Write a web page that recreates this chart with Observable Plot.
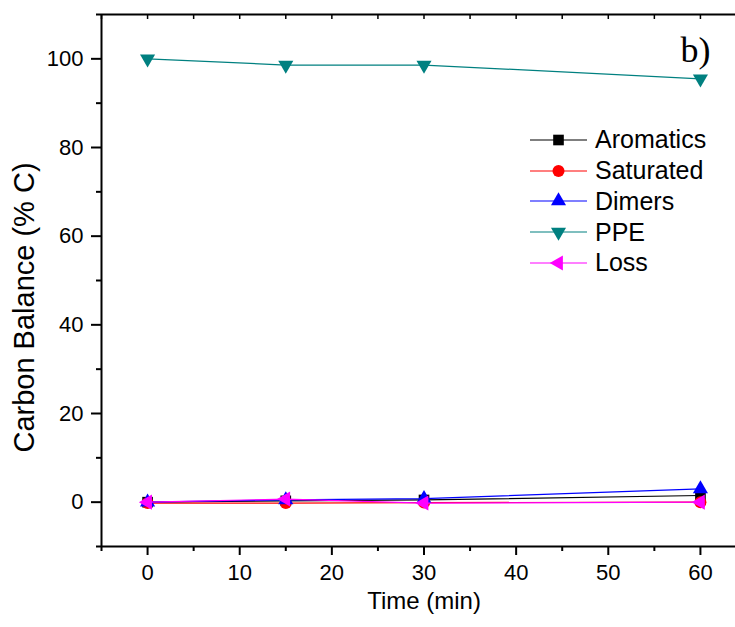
<!DOCTYPE html>
<html><head><meta charset="utf-8">
<script src="https://cdn.jsdelivr.net/npm/d3@7"></script>
<script src="https://cdn.jsdelivr.net/npm/@observablehq/plot@0.6"></script>
<style>
html,body{margin:0;padding:0;background:#fff;overflow:hidden;}
#wrap{position:relative;width:735px;height:627px;overflow:hidden;background:#fff;}
#legend{position:absolute;left:530px;top:124.6px;font-family:"Liberation Sans",Arial,sans-serif;font-size:25px;color:#000;}
.row{display:flex;align-items:center;height:30.7px;white-space:nowrap;}
.row svg{display:block;margin-right:8px;}
</style></head>
<body><div id="wrap"></div>
<script>
const times = [0, 15, 30, 60];
const aromatics = [0, 0.3, 0.5, 1.5];
const saturated = [-0.2, -0.2, -0.1, 0];
const dimers = [0, 0.5, 0.8, 3.0];
const ppe = [100, 98.6, 98.6, 95.5];
const loss = [0, 0.7, -0.2, 0];
const seriesNames = ["Aromatics", "Saturated", "Dimers", "PPE", "Loss"];
const seriesColors = ["#000000", "#ff0000", "#0000ff", "#008080", "#ff00ff"];
const xTicks = [0, 10, 20, 30, 40, 50, 60];
const xMinor = [-5, 5, 15, 25, 35, 45, 55, 65];
const yTicks = [0, 20, 40, 60, 80, 100];
const yMinor = [-10, 10, 30, 50, 70, 90, 110];
const panelTag = "b)";

const s3 = Math.sqrt(3);
const triDown = {draw(c, size) { const y = -Math.sqrt(size / (s3 * 3)); c.moveTo(0, -y * 2); c.lineTo(-s3 * y, y); c.lineTo(s3 * y, y); c.closePath(); }};
const triLeft = {draw(c, size) { const y = -Math.sqrt(size / (s3 * 3)); c.moveTo(y * 2, 0); c.lineTo(-y, -s3 * y); c.lineTo(-y, s3 * y); c.closePath(); }};
const seriesSymbols = [d3.symbolSquare, d3.symbolCircle, d3.symbolTriangle, triDown, triLeft];
const seriesR = [6, 6, 5.6, 5.6, 5.6];
const seriesValues = [aromatics, saturated, dimers, ppe, loss];

const rows = [];
seriesNames.forEach((name, i) => times.forEach((t, j) => rows.push({series: name, idx: i, time: t, value: seriesValues[i][j]})));

const marks = [
  Plot.ruleY([-10], {strokeWidth: 2}),
  Plot.ruleY([110], {strokeWidth: 2}),
  Plot.ruleX([-5], {strokeWidth: 2}),
  Plot.axisX({ticks: xTicks, tickSize: 9, tickPadding: 9, strokeWidth: 2, label: null, fontSize: 22}),
  Plot.axisX({ticks: xMinor, tickSize: 5, text: null, strokeWidth: 2, label: null}),
  Plot.axisX({anchor: "top", ticks: xTicks.concat(xMinor), tickSize: -4, text: null, strokeWidth: 1.5, label: null}),
  Plot.axisY({ticks: yTicks, tickSize: 10, tickPadding: 8, strokeWidth: 2, label: null, fontSize: 22}),
  Plot.axisY({ticks: yMinor, tickSize: 5, text: null, strokeWidth: 2, label: null}),
  Plot.text(["Time (min)"], {frameAnchor: "bottom", dy: 62, fontSize: 24}),
  Plot.text(["Carbon Balance (% C)"], {frameAnchor: "left", textAnchor: "middle", lineAnchor: "middle", dx: -77, dy: 27, rotate: -90, fontSize: 29}),
  Plot.text([panelTag], {frameAnchor: "top-right", dx: -36, dy: 22, textAnchor: "end", fontSize: 36, fontFamily: "Liberation Serif, Times New Roman, serif"})
];
seriesNames.forEach((name, i) => {
  const d = rows.filter(r => r.idx === i);
  marks.push(Plot.line(d, {x: "time", y: "value", stroke: seriesColors[i], strokeWidth: 1.2}));
  marks.push(Plot.dot(d, {x: "time", y: "value", fill: seriesColors[i], stroke: "none", symbol: seriesSymbols[i], r: seriesR[i]}));
});

const chart = Plot.plot({
  width: 746, height: 627,
  marginLeft: 101, marginRight: 0, marginTop: 14, marginBottom: 81,
  style: {fontFamily: "Liberation Sans, Arial, sans-serif", fontSize: "22px", maxWidth: "none", background: "white", color: "black"},
  x: {domain: [-5, 65]},
  y: {domain: [-10, 110]},
  marks
});
document.getElementById("wrap").appendChild(chart);

const legend = document.createElement("div");
legend.id = "legend";
seriesNames.forEach((name, i) => {
  const row = document.createElement("div");
  row.className = "row";
  const svg = d3.create("svg").attr("width", 57).attr("height", 30);
  svg.append("line").attr("x1", 0).attr("x2", 57).attr("y1", 15).attr("y2", 15).attr("stroke", seriesColors[i]).attr("stroke-width", 1.2);
  svg.append("path").attr("transform", "translate(28.5,15)").attr("fill", seriesColors[i])
    .attr("d", d3.symbol(seriesSymbols[i], Math.PI * seriesR[i] * seriesR[i])());
  row.appendChild(svg.node());
  const span = document.createElement("span");
  span.textContent = name;
  row.appendChild(span);
  legend.appendChild(row);
});
document.getElementById("wrap").appendChild(legend);
</script>
</body></html>
